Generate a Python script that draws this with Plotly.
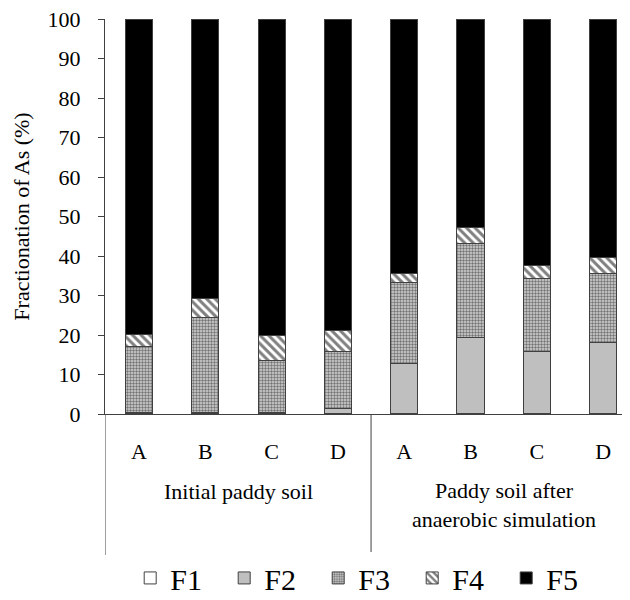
import plotly.graph_objects as go

categories = ["A", "B", "C", "D", "A", "B", "C", "D"]
groups = ["Initial paddy soil", "Paddy soil after<br>anaerobic simulation"]
F1 = [0.1, 0.1, 0.1, 0.1, 0.1, 0.1, 0.1, 0.1]
F2 = [0.2, 0.4, 0.3, 1.3, 12.6, 19.2, 15.8, 17.9]
F3 = [16.7, 24.0, 13.2, 14.5, 20.5, 23.8, 18.3, 17.5]
F4 = [3.1, 4.7, 6.2, 5.3, 2.3, 4.2, 3.5, 4.2]
F5 = [79.9, 70.8, 80.2, 78.8, 64.5, 52.7, 62.3, 60.3]
yticks = [0, 10, 20, 30, 40, 50, 60, 70, 80, 90, 100]

FONT = "Times New Roman"
LINE = "#404040"
xpos = list(range(len(categories)))

fig = go.Figure()
styles = [
    ("F1", F1, dict(color="white")),
    ("F2", F2, dict(color="#BFBFBF")),
    ("F3", F3, dict(color="white", pattern=dict(shape=".", fgcolor="#111111", bgcolor="#d4d4d4", size=3, solidity=0.5))),
    ("F4", F4, dict(color="white", pattern=dict(shape="\\", fgcolor="black", bgcolor="white", size=6, solidity=0.5))),
    ("F5", F5, dict(color="black")),
]
for name, vals, mk in styles:
    mk = dict(mk)
    mk["line"] = dict(color=LINE, width=1)
    fig.add_trace(go.Bar(name=name, x=xpos, y=vals, width=0.41, marker=mk))

# group separators
for xv in [-0.513, 3.5, 7.5]:
    fig.add_shape(type="line", xref="x", yref="paper", x0=xv, x1=xv, y0=0, y1=-0.357,
                  line=dict(color=LINE, width=1))

# group labels
fig.add_annotation(x=1.5, y=-0.195, xref="x", yref="paper", text=groups[0], showarrow=False,
                   font=dict(family=FONT, size=22, color="black"), yanchor="middle")
fig.add_annotation(x=5.5, y=-0.23, xref="x", yref="paper", text=groups[1], showarrow=False,
                   font=dict(family=FONT, size=22, color="black"), yanchor="middle")

fig.update_layout(
    width=630, height=600,
    margin=dict(l=97, r=8, t=11, b=194, autoexpand=False),
    barmode="stack",
    plot_bgcolor="white", paper_bgcolor="white",
    font=dict(family=FONT, size=22, color="black"),
    showlegend=True,
    legend=dict(orientation="h", x=0.048, xanchor="left", y=-0.415, yanchor="middle",
                font=dict(family=FONT, size=30, color="black"), traceorder="normal",
                entrywidth=49, itemwidth=30),
    xaxis=dict(range=[-0.513, 7.406], tickvals=xpos, ticktext=categories,
               showline=True, linecolor=LINE, linewidth=1, ticks="outside", ticklen=18,
               tickcolor="rgba(0,0,0,0)", showgrid=False, zeroline=False,
               tickfont=dict(family=FONT, size=22)),
    yaxis=dict(range=[0, 100], tickvals=yticks, showline=True, linecolor=LINE, linewidth=1,
               ticks="outside", ticklen=6, tickcolor=LINE, showgrid=False, zeroline=False,
               ticklabelstandoff=13, ticklabeloverflow="allow",
               tickfont=dict(family=FONT, size=22),
               title=dict(text="Fractionation of As (%)", font=dict(family=FONT, size=22), standoff=11)),
)

fig.write_html("out.html")
